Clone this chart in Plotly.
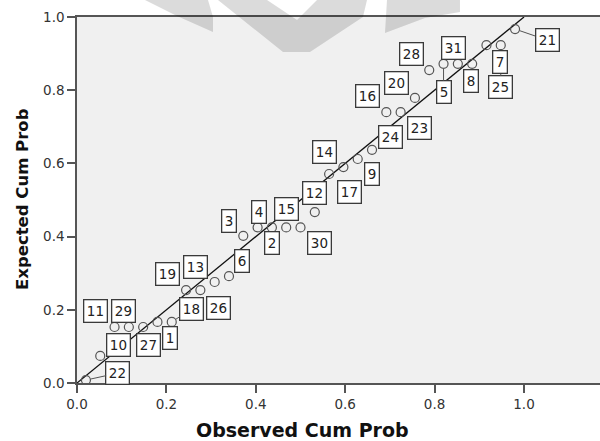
import plotly.graph_objects as go

# ---- data ----
observed = [0.020, 0.052, 0.084, 0.116, 0.148, 0.180, 0.212, 0.244, 0.276, 0.308,
            0.340, 0.372, 0.404, 0.436, 0.468, 0.500, 0.532, 0.564, 0.596, 0.628,
            0.660, 0.692, 0.724, 0.756, 0.788, 0.820, 0.852, 0.884, 0.916, 0.948, 0.980]
expected = [0.008, 0.074, 0.153, 0.153, 0.153, 0.167, 0.167, 0.254, 0.254, 0.276,
            0.292, 0.402, 0.425, 0.425, 0.425, 0.425, 0.467, 0.571, 0.590, 0.612,
            0.637, 0.740, 0.740, 0.779, 0.855, 0.872, 0.872, 0.872, 0.923, 0.923, 0.967]
cases = [22, 10, 11, 29, 27, 1, 18, 19, 13, 26, 6, 3, 4, 2, 15, 30, 12, 14, 17, 9,
         24, 16, 23, 20, 28, 5, 31, 8, 7, 25, 21]
ref_line = [0.0, 1.0]
tick_vals = [0.0, 0.2, 0.4, 0.6, 0.8, 1.0]
tick_text = ["0.0", "0.2", "0.4", "0.6", "0.8", "1.0"]

# label placement (screen px offsets from point, leader line flag)
label_pos = {
    22: (32, -7, True), 10: (18, -11, False), 11: (-19, -16, False), 29: (-5, -16, False),
    27: (5, 18, False), 1: (13, 16, False), 18: (20, -13, True), 19: (-19, -16, False),
    13: (-5, -23, False), 26: (4, 26, False), 6: (13, -15, False), 3: (-14, -15, False),
    4: (1, -15, False), 2: (0, 16, False), 15: (0, -18, False), 30: (19, 16, False),
    12: (0, -19, False), 14: (-5, -22, False), 17: (6, 25, False), 9: (14, 15, False),
    24: (18, -13, False), 16: (-19, -16, False), 23: (19, 16, False), 20: (-18, -15, False),
    28: (-18, -16, False), 5: (0, 28, True), 31: (-4, -16, False), 8: (-1, 17, False),
    7: (14, 17, False), 25: (0, 42, True), 21: (32, 11, True),
}

W, H = 600, 441
ML, MR, MT, MB = 77, 0, 17, 58
plot_w = W - ML - MR
plot_h = H - MT - MB
x_max = plot_w / 447.0

fig = go.Figure()
fig.add_trace(go.Scatter(x=ref_line, y=ref_line, mode="lines",
                         line=dict(color="#111111", width=1.3), hoverinfo="skip",
                         showlegend=False))
fig.add_trace(go.Scatter(x=observed, y=expected, mode="markers",
                         marker=dict(symbol="circle-open", size=9, color="#555555",
                                     line=dict(color="#555555", width=1.2)),
                         showlegend=False))

label_font = dict(family="DejaVu Sans", size=13.5, color="#222222")
leader = []
plain = []
for xo, ye, c in zip(observed, expected, cases):
    dx, dy, has_leader = label_pos[c]
    common = dict(x=xo, y=ye, xref="x", yref="y", text=str(c), font=label_font,
                  bgcolor="white", bordercolor="#3a3a3a", borderwidth=1.3, borderpad=2.5)
    if has_leader:
        leader.append(dict(common, showarrow=True, ax=dx, ay=dy, arrowhead=0,
                           arrowwidth=1, arrowcolor="#555555", standoff=5))
    else:
        plain.append(dict(common, showarrow=False, xshift=dx, yshift=-dy))

title_font_x = dict(family="DejaVu Sans", size=19, color="#111111")
title_font_y = dict(family="DejaVu Sans", size=16.5, color="#111111")
titles = [
    dict(text="<b>Observed Cum Prob</b>", xref="paper", yref="paper",
         x=(302 - ML) / plot_w, y=(383 - 430) / plot_h, xanchor="center", yanchor="middle",
         showarrow=False, font=title_font_x),
    dict(text="<b>Expected Cum Prob</b>", xref="paper", yref="paper",
         x=(22 - ML) / plot_w, y=(383 - 199) / plot_h, xanchor="center", yanchor="middle",
         showarrow=False, textangle=-90, font=title_font_y),
]

# faint watermark shapes at the top (pixel -> paper coordinates)
def pp(px, py):
    return (px - ML) / plot_w, (383 - py) / plot_h

def path(points):
    pts = [pp(a, b) for a, b in points]
    return "M " + " L ".join(f"{a:.4f},{b:.4f}" for a, b in pts) + " Z"

wm = [
    [(145, 0), (208, 0), (213, 17), (213, 32), (177, 16)],
    [(218, 0), (267, 0), (297, 20), (317, 0), (367, 0), (363, 17), (310, 52), (283, 52)],
    [(387, 0), (460, 0), (460, 12), (425, 18), (385, 33)],
]
shapes = [dict(type="path", xref="paper", yref="paper", path=path(p),
               fillcolor="rgba(0,0,0,0.14)", line=dict(width=0), layer="above")
          for p in wm]

fig.update_layout(
    width=W, height=H,
    margin=dict(l=ML, r=MR, t=MT, b=MB),
    paper_bgcolor="white", plot_bgcolor="#F0F0F0",
    annotations=leader + plain + titles,
    shapes=shapes,
    xaxis=dict(range=[0, x_max], tickvals=tick_vals, ticktext=tick_text, automargin=False,
               showgrid=False, zeroline=False, showline=True, linecolor="#555555",
               linewidth=1.5, mirror=True, ticks="outside", ticklen=8, tickwidth=1.5,
               tickcolor="#555555",
               tickfont=dict(family="DejaVu Sans", size=13.5, color="#333333")),
    yaxis=dict(range=[0, 1], tickvals=tick_vals, ticktext=tick_text, automargin=False,
               showgrid=False, zeroline=False, showline=True, linecolor="#555555",
               linewidth=1.5, ticks="outside", ticklen=8, tickwidth=1.5,
               tickcolor="#555555",
               tickfont=dict(family="DejaVu Sans", size=13.5, color="#333333")),
)

fig.write_html("out.html", config={"displayModeBar": False},
               post_script="document.body.style.margin='0';document.body.style.padding='0';")
